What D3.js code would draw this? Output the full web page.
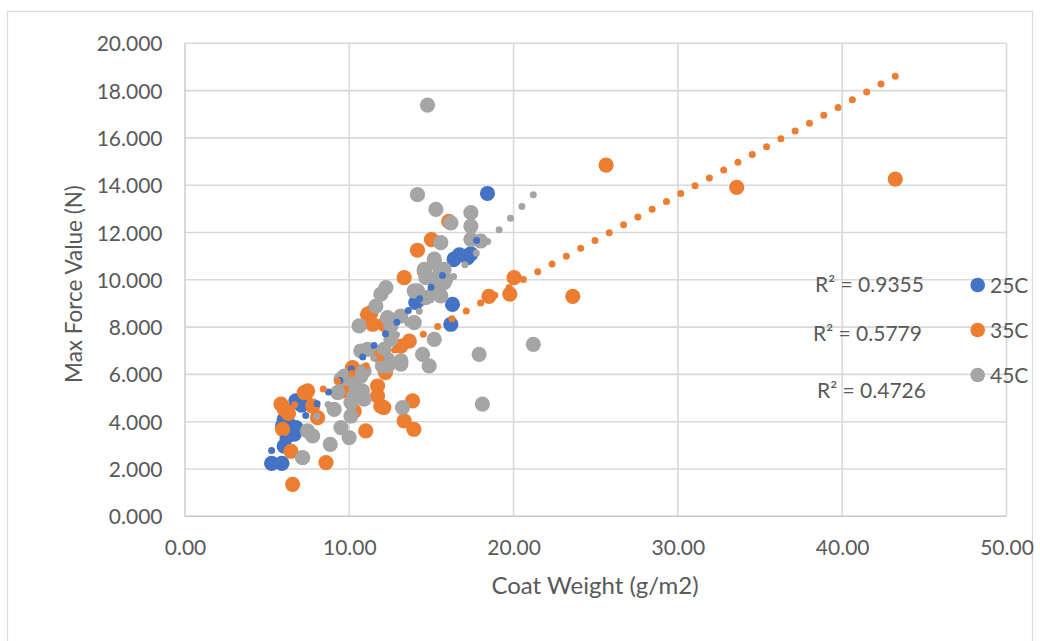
<!DOCTYPE html>
<html>
<head>
<meta charset="utf-8">
<script src="https://cdn.jsdelivr.net/npm/d3@7"></script>
<style>
  html, body { margin: 0; padding: 0; background: #fff; }
  svg { display: block; font-family: Lato, "Open Sans", sans-serif; }
</style>
</head>
<body>
<svg id="chart" width="1040" height="641"></svg>
<script>
// ---------- data ----------
const seriesNames = ["25C", "35C", "45C"];
const seriesColors = ["#4472C4", "#ED7D31", "#A5A5A5"];

const coat25 = [5.27,5.9,6.04,6.25,6.65,6.75,6.25,6.04,5.94,6.95,6.75,7.1,14.05,14.25,16.28,16.18,18.41,16.38,17.2,16.7,17.4];
const force25 = [2.24,2.24,2.97,3.4,3.47,3.75,3.96,4.1,3.82,4.81,4.88,4.7,9.04,9.17,8.96,8.12,13.65,10.87,10.94,11.05,11.1];

const coat35 = [6.55,6.45,8.58,5.94,5.84,6.04,6.3,7.26,7.46,7.77,8.07,9.59,10.2,10.3,11.0,10.3,11.72,11.92,11.72,11.11,11.42,11.31,12.12,11.82,13.14,13.65,12.2,13.85,12.1,13.34,13.93,13.34,14.56,14.15,15.0,16.05,18.5,19.77,20.03,23.6,25.63,33.58,43.23];
const force35 = [1.35,2.75,2.27,3.68,4.74,4.52,4.35,5.23,5.3,4.66,4.17,5.3,6.29,6.0,3.61,4.45,5.09,4.66,5.51,8.54,8.12,8.61,8.12,6.78,7.2,7.41,6.08,4.88,4.6,4.03,3.68,10.09,10.37,11.25,11.7,12.47,9.3,9.39,10.09,9.3,14.85,13.91,14.26];

const coat45 = [7.16,7.46,7.77,8.84,9.49,9.99,10.1,9.08,9.49,10.3,10.7,10.3,10.9,10.1,10.8,9.29,9.69,10.9,10.7,11.11,12.12,12.53,12.33,12.02,13.14,13.14,12.33,10.6,11.62,11.92,12.23,12.33,12.53,13.14,13.95,13.95,14.15,14.66,15.17,15.57,15.27,15.77,15.87,14.66,15.47,14.56,15.17,15.17,15.77,15.57,17.4,18.0,16.18,17.4,17.4,15.27,14.15,14.76,15.17,14.46,14.86,13.24,17.9,18.1,21.2];
const force45 = [2.48,3.61,3.4,3.04,3.75,3.33,4.24,4.52,5.79,5.65,5.93,5.09,4.95,4.81,5.3,5.23,5.93,6.14,6.99,7.06,7.06,7.48,6.64,6.36,6.57,6.43,6.36,8.05,8.89,9.39,9.67,8.4,8.05,8.47,8.19,9.53,9.53,9.25,9.46,9.32,9.74,9.88,10.02,10.09,10.23,10.44,10.73,10.87,10.44,11.57,11.71,11.64,12.41,12.27,12.84,12.98,13.6,17.39,7.48,6.85,6.36,4.6,6.85,4.74,7.27];

// linear trendlines: slope, intercept, x range
const trendSlope = [0.711, 0.38, 0.71];
const trendIntercept = [-0.96, 2.18, -1.46];
const trendFrom = [5.27, 5.84, 7.16];
const trendTo = [18.41, 43.23, 21.2];
const rSquared = ["R² = 0.9355", "R² = 0.5779", "R² = 0.4726"];

const xTicks = [0, 10, 20, 30, 40, 50];
const yTicks = [0, 2, 4, 6, 8, 10, 12, 14, 16, 18, 20];
const xTitle = "Coat Weight (g/m2)";
const yTitle = "Max Force Value (N)";

// ---------- drawing ----------
const svg = d3.select("#chart");
const textColor = "#595959";
const fontSize = 21;

svg.append("rect").attr("x", 7.5).attr("y", 11.5).attr("width", 1025).attr("height", 640)
  .attr("fill", "#fff").attr("stroke", "#d9d9d9").attr("stroke-width", 1.2);

const x = d3.scaleLinear().domain([0, 50]).range([185, 1006.5]);
const y = d3.scaleLinear().domain([0, 20]).range([516.3, 43.3]);

// grid
const grid = svg.append("g");
grid.selectAll("line.h").data(yTicks.slice(1)).join("line")
  .attr("x1", x(0)).attr("x2", x(50)).attr("y1", d => y(d)).attr("y2", d => y(d))
  .attr("stroke", "#d9d9d9").attr("stroke-width", 1.6);
grid.selectAll("line.v").data(xTicks.slice(1)).join("line")
  .attr("y1", y(0)).attr("y2", y(20)).attr("x1", d => x(d)).attr("x2", d => x(d))
  .attr("stroke", "#d9d9d9").attr("stroke-width", 1.6);

// axes lines
svg.append("line").attr("x1", x(0)).attr("x2", x(0)).attr("y1", y(0)).attr("y2", y(20))
  .attr("stroke", "#d0d0d0").attr("stroke-width", 1.6);
svg.append("line").attr("x1", x(0)).attr("x2", x(50)).attr("y1", y(0)).attr("y2", y(0))
  .attr("stroke", "#c8c8c8").attr("stroke-width", 1.6);

// tick labels via d3 axes
const xAxis = d3.axisBottom(x).tickValues(xTicks).tickFormat(d3.format(".2f")).tickSize(0).tickPadding(0);
const yAxis = d3.axisLeft(y).tickValues(yTicks).tickFormat(d3.format(".3f")).tickSize(0).tickPadding(0);

const gx = svg.append("g").attr("transform", `translate(0, ${y(0)})`).call(xAxis);
gx.select(".domain").remove();
gx.selectAll("text").attr("fill", textColor).attr("font-size", fontSize)
  .attr("font-family", "Lato, sans-serif").attr("dy", null).attr("y", 39);

const gy = svg.append("g").attr("transform", `translate(162.5, 0)`).call(yAxis);
gy.select(".domain").remove();
gy.selectAll("text").attr("fill", textColor).attr("font-size", fontSize)
  .attr("font-family", "Lato, sans-serif").attr("dy", "0.36em").attr("x", 0);

// axis titles
svg.append("text").attr("x", 595).attr("y", 594).attr("text-anchor", "middle")
  .attr("fill", textColor).attr("font-size", 24).text(xTitle);
svg.append("text").attr("transform", "translate(82, 284) rotate(-90)").attr("text-anchor", "middle")
  .attr("fill", textColor).attr("font-size", 22.5).text(yTitle);

// series markers
const series = [
  { xs: coat25, ys: force25 },
  { xs: coat35, ys: force35 },
  { xs: coat45, ys: force45 }
];
series.forEach((s, i) => {
  const pts = s.xs.map((v, j) => [v, s.ys[j]]);
  svg.append("g").selectAll("circle").data(pts).join("circle")
    .attr("cx", d => x(d[0])).attr("cy", d => y(d[1])).attr("r", 7.6)
    .attr("fill", seriesColors[i]);
});

// trendlines (dotted); orange & grey drawn from their right end so a dot lands there
const trendReverse = [false, true, true];
series.forEach((s, i) => {
  let a = trendFrom[i], b = trendTo[i];
  if (trendReverse[i]) { const t = a; a = b; b = t; }
  svg.append("line")
    .attr("x1", x(a)).attr("y1", y(trendSlope[i] * a + trendIntercept[i]))
    .attr("x2", x(b)).attr("y2", y(trendSlope[i] * b + trendIntercept[i]))
    .attr("stroke", seriesColors[i]).attr("stroke-width", 7)
    .attr("stroke-linecap", "round").attr("stroke-dasharray", "0 16.3");
});

// R² labels
const rPos = [[815, 292], [813, 341], [817, 397.5]];
rSquared.forEach((t, i) => {
  svg.append("text").attr("x", rPos[i][0]).attr("y", rPos[i][1])
    .attr("fill", textColor).attr("font-size", fontSize).text(t);
});

// legend
const legY = [285, 330, 375];
seriesNames.forEach((n, i) => {
  svg.append("circle").attr("cx", 977.7).attr("cy", legY[i]).attr("r", 7.3).attr("fill", seriesColors[i]);
  svg.append("text").attr("x", 990).attr("y", legY[i] + 7.6).attr("fill", textColor)
    .attr("font-size", fontSize).text(n);
});
</script>
</body>
</html>
